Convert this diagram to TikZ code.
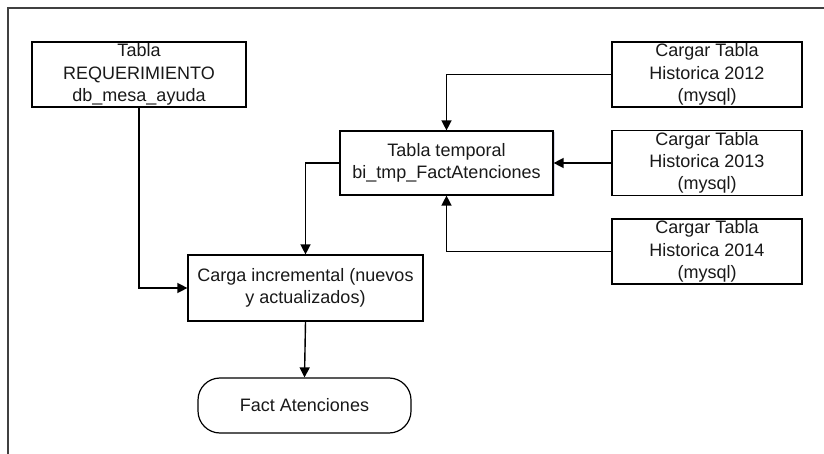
\documentclass[tikz,border=0pt]{standalone}
\usepackage{fontspec}
\setmainfont{Liberation Sans}
\usetikzlibrary{arrows.meta,shadows}
\begin{document}
\begin{tikzpicture}[x=1pt,y=-1pt,
  every node/.style={font=\fontsize{18}{22.2}\selectfont, align=center, inner sep=0pt, text=black!90},
  procbox/.style={draw=black, line width=1.2pt, fill=white},
  termbox/.style={draw=black, line width=1.2pt, fill=white, rounded corners=22pt},
  flow/.style={line width=1.4pt, -{Triangle[length=10pt,width=10pt]}},
  soft shadow/.style={drop shadow={shadow xshift=1.5pt, shadow yshift=-1.5pt, fill=blue!25!gray, opacity=0.25}}
]
\useasboundingbox (0,0) rectangle (824,454);
% frame
\draw[line width=2pt, black!75] (8,454) -- (8,8) -- (824,8);

\node[procbox, minimum width=214pt, minimum height=65pt] (req) at (139,74.5)
  {Tabla\\REQUERIMIENTO\\db\_mesa\_ayuda};
\node[procbox, minimum width=190pt, minimum height=65pt] (h12) at (707,74.5)
  {Cargar Tabla\\Historica 2012\\(mysql)};
\node[procbox, minimum width=190pt, minimum height=65pt] (h13) at (707,163)
  {Cargar Tabla\\Historica 2013\\(mysql)};
\node[procbox, minimum width=190pt, minimum height=65pt] (h14) at (707,251.5)
  {Cargar Tabla\\Historica 2014\\(mysql)};
\node[procbox, soft shadow, minimum width=213pt, minimum height=64pt] (tmp) at (446.5,163)
  {Tabla temporal\\bi\_tmp\_FactAtenciones};
\node[procbox, minimum width=235pt, minimum height=66pt] (inc) at (305.5,288)
  {Carga incremental (nuevos\\y actualizados)};
\node[termbox, minimum width=213pt, minimum height=55pt] (fact) at (304.5,405.5)
  {Fact Atenciones};

\draw[flow] (req.south) |- (inc.west);
\draw[flow] (h12.west) -| (tmp.north);
\draw[flow] (h13.west) -- (tmp.east);
\draw[flow] (h14.west) -| (tmp.south);
\draw[flow] (tmp.west) -| (inc.north);
\draw[flow] (inc.south) -- (fact.north);
\end{tikzpicture}
\end{document}
